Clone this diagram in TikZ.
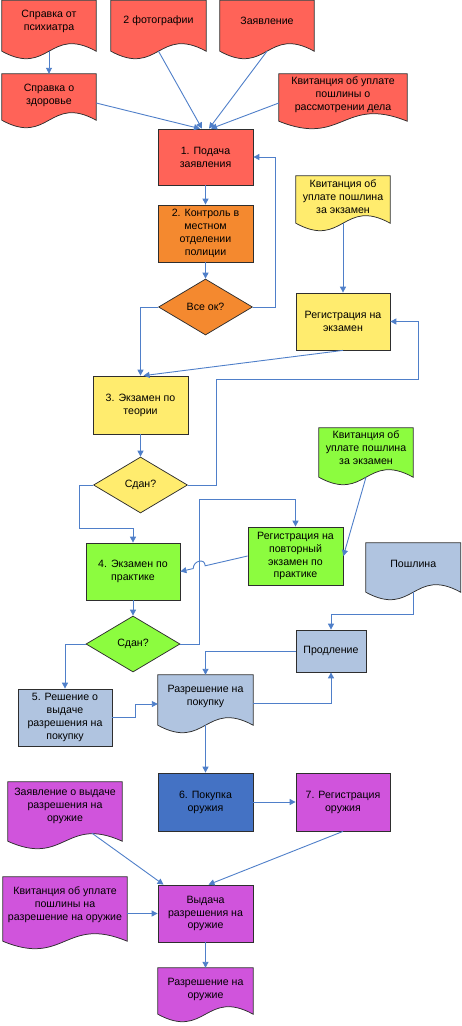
\documentclass[tikz,border=0pt]{standalone}
\usepackage{fontspec}
\setmainfont{Liberation Sans}
\usetikzlibrary{shapes.geometric,arrows.meta,calc,backgrounds}
\definecolor{cred}{HTML}{FF6358}
\definecolor{corange}{HTML}{F4892F}
\definecolor{cyellow}{HTML}{FFEC6E}
\definecolor{cgreen}{HTML}{8CFC3F}
\definecolor{cltblue}{HTML}{B0C4E0}
\definecolor{cdkblue}{HTML}{4472C4}
\definecolor{cmag}{HTML}{D054DC}
\definecolor{clink}{HTML}{4F7FC9}
\definecolor{coutl}{HTML}{2E2E2E}
\begin{document}
\begin{tikzpicture}[x=1pt,y=-1pt,
  every node/.style={font=\fontsize{10.6}{12.9}\selectfont, align=center, inner sep=0pt},
  sz/.style 2 args={minimum width=#1pt, minimum height=#2pt},
  proc/.style={rectangle, draw=coutl, line width=0.75pt},
  dec/.style={diamond, draw=coutl, line width=0.75pt},
  docbox/.style={rectangle},
  docpath/.style={draw=coutl, line width=0.75pt},
  conn/.style={draw=clink, line width=0.9pt, -{Triangle[length=6pt,width=6pt]}}]
\useasboundingbox (0,0) rectangle (461,1026);

% documents (text boxes; outlines drawn on background layer)
\node[docbox, sz={94}{41}] (a1) at (49,21) {Справка от\\психиатра};
\node[docbox, sz={95}{41}] (a2) at (158.5,21) {2 фотографии};
\node[docbox, sz={94}{41}] (a3) at (267,21) {Заявление};
\node[docbox, sz={94}{42}] (b1) at (49,95) {Справка о\\здоровье};
\node[docbox, sz={128}{42}] (b4) at (343,95) {Квитанция об уплате\\пошлины о\\рассмотрении дела};
\node[docbox, sz={94}{42}] (yd) at (343,197) {Квитанция об\\уплате пошлина\\за экзамен};
\node[docbox, sz={94}{40}] (gd) at (366,448) {Квитанция об\\уплате пошлина\\за экзамен};
\node[docbox, sz={94.5}{42}] (pd) at (413.25,564) {Пошлина};
\node[docbox, sz={95}{42}] (rp) at (205.5,696) {Разрешение на\\покупку};
\node[docbox, sz={114}{48}] (m1) at (65,806) {Заявление о выдаче\\разрешения на\\оружие};
\node[docbox, sz={124}{55}] (m2) at (65,904.5) {Квитанция об уплате\\пошлины на\\разрешение на оружие};
\node[docbox, sz={95}{43}] (fd) at (205.5,989.5) {Разрешение на\\оружие};

% processes and decisions
\node[proc, fill=cred, sz={95}{56}] (n1) at (205.5,157) {1. Подача\\заявления};
\node[proc, fill=corange, sz={95}{57}] (n2) at (205.5,233.5) {2. Контроль в\\местном\\отделении\\полиции};
\node[dec, fill=corange, sz={94}{56}] (d1) at (205.5,307) {Все ок?};
\node[proc, fill=cyellow, sz={94}{57}] (r1) at (343,321.5) {Регистрация на\\экзамен};
\node[proc, fill=cyellow, sz={95}{58}] (n3) at (140.5,405) {3. Экзамен по\\теории};
\node[dec, fill=cyellow, sz={94}{56}] (d2) at (140.5,485) {Сдан?};
\node[proc, fill=cgreen, sz={94}{57}] (n4) at (133,571.5) {4. Экзамен по\\практике};
\node[dec, fill=cgreen, sz={94}{56}] (d3) at (133,644) {Сдан?};
\node[proc, fill=cgreen, sz={95}{58}] (r2) at (295.5,556) {Регистрация на\\повторный\\экзамен по\\практике};
\node[proc, fill=cltblue, sz={70}{42}] (p) at (331,651) {Продление};
\node[proc, fill=cltblue, sz={94}{57}] (n5) at (65,717.5) {5. Решение о\\выдаче\\разрешения на\\покупку};
\node[proc, fill=cdkblue, sz={95}{58}] (n6) at (205.5,802) {6. Покупка\\оружия};
\node[proc, fill=cmag, sz={94}{58}] (n7) at (343,802) {7. Регистрация\\оружия};
\node[proc, fill=cmag, sz={95}{57}] (v) at (205.5,913.5) {Выдача\\разрешения на\\оружие};

\begin{scope}[on background layer]
\foreach \n/\c/\e in {a1/cred/9.5, a2/cred/9.5, a3/cred/9.5, b1/cred/4, b4/cred/5,
    yd/cyellow/5, gd/cgreen/9, pd/cltblue/7, rp/cltblue/8, m1/cmag/11, m2/cmag/9, fd/cmag/3}{
  \filldraw[docpath, fill=\c] (\n.north west) -- (\n.north east)
    -- ([yshift={-\e*1pt}]\n.south east)
    .. controls ([yshift={(26-\e)*1pt}]\n.south) and ([yshift={(-26-\e)*1pt}]\n.south)
    .. ([yshift={-\e*1pt}]\n.south west) -- cycle;
  \coordinate (\n-b) at ([yshift={-\e*1pt}]\n.south);
}
\end{scope}

\coordinate (c1) at (216,379);
\coordinate (c2) at (418,379);
\coordinate (c3) at (79,528);
\coordinate (c4) at (199,499);
\coordinate (h1) at ($(r2.west)!0.632!(n4.east)$);
\coordinate (h2) at ($(r2.west)!0.809!(n4.east)$);

% connectors
\draw[conn] (a1-b) -- (b1.north);
\draw[conn] (a2-b) -- ([xshift=-3.5pt]n1.north);
\draw[conn] ([yshift=-8pt]b1.east) -- ([xshift=-5.5pt]n1.north);
\draw[conn] (a3-b) -- ([xshift=3.5pt]n1.north);
\draw[conn] ([yshift=-8pt]b4.west) -- ([xshift=5.5pt]n1.north);
\draw[conn] (n1.south) -- (n2.north);
\draw[conn] (n2.south) -- (d1.north);
\draw[conn] (d1.east) -- ++(23,0) |- (n1.east);
\draw[conn] (d1.west) -| (n3.north);
\draw[conn] (yd-b) -- (r1.north);
\draw[conn] (r1.south) -- ([xshift=3pt]n3.north);
\draw[conn] (n3.south) -- (d2.north);
\draw[conn] (d2.east) -| (c1) -- (c2) |- (r1.east);
\draw[conn] (d2.west) -| (c3) -| (n4.north);
\draw[conn] (n4.south) -- (d3.north);
\draw[conn] (d3.east) -| (c4) -| (r2.north);
\draw[conn] (r2.west) -- (h1) .. controls +(0,-8) and +(0,-8) .. (h2) -- (n4.east);
\draw[conn] (gd-b) -- (r2.east);
\draw[conn] (pd-b) |- ([yshift=15pt]p.north) -- (p.north);
\draw[conn] (p.west) -| (rp.north);
\draw[conn] (d3.west) -| (n5.north);
\draw[conn] (n5.east) -- ++(23,0) |- ([yshift=-8pt]rp.west);
\draw[conn] ([yshift=-7pt]rp.east) -| (p.south);
\draw[conn] (rp-b) -- (n6.north);
\draw[conn] (n6.east) -- (n7.west);
\draw[conn] ([xshift=27pt,yshift=-3pt]m1.south) -- ([xshift=-42pt]v.north);
\draw[conn] (n7.south) -- ([xshift=3pt]v.north);
\draw[conn] (m2.east |- v.west) -- (v.west);
\draw[conn] (v.south) -- (fd.north);
\end{tikzpicture}
\end{document}
